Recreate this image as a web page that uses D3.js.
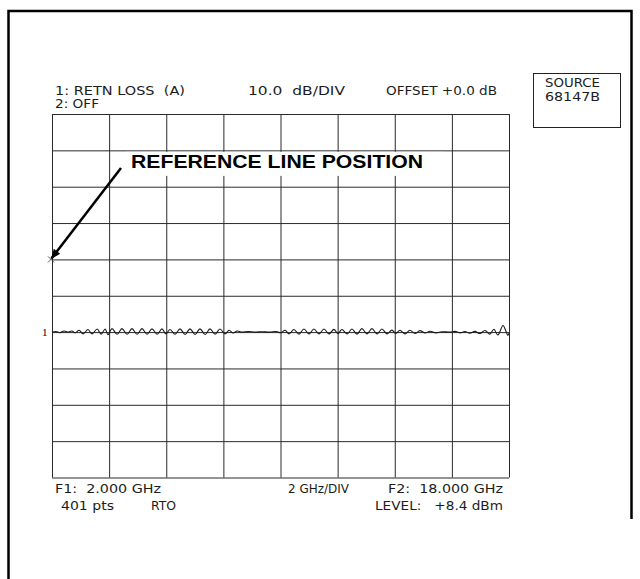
<!DOCTYPE html>
<html>
<head>
<meta charset="utf-8">
<script src="https://cdn.jsdelivr.net/npm/d3@7"></script>
<style>
  html, body { margin: 0; padding: 0; background: #fff; }
  svg text { white-space: pre; }
  .inst { font-family: "DejaVu Sans", "Liberation Sans", sans-serif; font-size: 11.5px; fill: #1c1c1c; }
</style>
</head>
<body>
<div id="chart"></div>
<script>
// sweep settings (GHz) and display scale (dB)
const freqStart = 2, freqStop = 18, freqStep = 2;
const dbTop = 40, dbBottom = -60, dbStep = 10;
const refLevel = 0;      // reference line position
const traceLevel = -20;  // where trace 1 sits

// trace 1 : return loss
const traceFreq = [2.00, 2.14, 2.28, 2.42, 2.56, 2.70, 2.81, 2.95, 3.09, 3.26, 3.40, 3.58, 3.72, 3.86, 3.96,
  4.10, 4.28, 4.45, 4.63, 4.80, 4.98, 5.15, 5.33, 5.50, 5.68, 5.85, 5.99,
  6.13, 6.31, 6.48, 6.66, 6.83, 7.01, 7.18, 7.36, 7.53, 7.71, 7.88, 8.06,
  8.20, 8.34, 8.48, 8.65, 8.86, 9.11, 9.35, 9.63, 9.84, 10.02,
  10.16, 10.30, 10.47, 10.65, 10.82, 11.00, 11.17, 11.35, 11.52, 11.70, 11.87, 12.01,
  12.15, 12.33, 12.50, 12.68, 12.85, 13.03, 13.20, 13.38, 13.55, 13.73, 13.90, 14.04,
  14.18, 14.36, 14.53, 14.71, 14.88, 15.06, 15.23, 15.44, 15.65, 15.93,
  16.11, 16.28, 16.46, 16.63, 16.81, 16.98, 17.16, 17.33, 17.47, 17.61, 17.79, 17.89, 17.96, 18.00];
const traceDb = [-20.0, -19.85, -20.15, -19.7, -20.0, -19.7, -20.2, -19.5, -20.5, -19.3, -20.5, -19.15, -20.55, -19.15, -20.7,
  -19.05, -20.6, -19.05, -20.6, -19.05, -20.6, -19.05, -20.6, -19.1, -20.6, -19.1, -20.5,
  -19.3, -20.6, -19.1, -20.65, -19.1, -20.65, -19.1, -20.65, -19.1, -20.6, -19.15, -20.5,
  -19.5, -20.25, -19.7, -20.0, -19.85, -20.0, -19.9, -20.0, -19.85, -20.15,
  -19.5, -20.5, -19.3, -20.55, -19.15, -20.5, -19.15, -20.5, -19.15, -20.5, -19.25, -20.4,
  -19.3, -20.5, -19.15, -20.55, -19.05, -20.5, -19.05, -20.5, -19.15, -20.5, -19.45, -20.4,
  -19.5, -20.5, -19.5, -20.4, -19.6, -20.25, -19.75, -20.2, -19.9, -20.0,
  -19.8, -20.2, -19.85, -20.3, -19.8, -20.4, -19.55, -20.55, -19.2, -20.8, -18.2, -19.7, -20.9, -20.3];

// annotation texts
const headerLeft = ["1: RETN LOSS  (A)", "2: OFF"];
const headerMid = "10.0  dB/DIV";
const headerRight = "OFFSET +0.0 dB";
const sourceLines = ["SOURCE", "68147B"];
const footerLeft = ["F1:  2.000 GHz", "401 pts"];
const footerMid = ["2 GHz/DIV", "RTO"];
const footerRight = ["F2:  18.000 GHz", "LEVEL:   +8.4 dBm"];
const calloutText = "REFERENCE LINE POSITION";

const W = 640, H = 579;
const plot = {left: 52, right: 509, top: 114, bottom: 477.5};

const svg = d3.select("#chart").append("svg")
  .attr("width", W).attr("height", H);

svg.append("rect").attr("width", W).attr("height", H).attr("fill", "#fff");

// page frame
svg.append("path")
  .attr("d", "M8.5,579V11H631.5V519")
  .attr("fill", "none").attr("stroke", "#000").attr("stroke-width", 2.5);

const x = d3.scaleLinear().domain([freqStart, freqStop]).range([plot.left, plot.right]);
const y = d3.scaleLinear().domain([dbBottom, dbTop]).range([plot.bottom, plot.top]);

// graticule via axes
const gridX = d3.axisBottom(x)
  .tickValues(d3.range(freqStart, freqStop + 0.01, freqStep))
  .tickSize(-(plot.bottom - plot.top)).tickFormat("");
const gridY = d3.axisLeft(y)
  .tickValues(d3.range(dbBottom, dbTop + 0.01, dbStep))
  .tickSize(-(plot.right - plot.left)).tickFormat("");

svg.append("g").attr("transform", `translate(0,${plot.bottom})`).call(gridX)
  .call(g => g.select(".domain").remove());
svg.append("g").attr("transform", `translate(${plot.left},0)`).call(gridY)
  .call(g => g.select(".domain").remove());
svg.selectAll(".tick line").attr("stroke", "#2a2a2a").attr("stroke-width", 1);

// trace
const trace = traceFreq.map((f, i) => ({f: f, db: traceDb[i]}));
svg.append("path")
  .datum(trace)
  .attr("fill", "none")
  .attr("stroke", "#1a1a1a")
  .attr("stroke-width", 1.1)
  .attr("d", d3.line().x(d => x(d.f)).y(d => y(d.db)).curve(d3.curveCatmullRom));

// trace marker "1"
svg.append("text")
  .attr("x", plot.left - 10).attr("y", y(traceLevel) + 3.5)
  .attr("font-family", "Liberation Serif, serif").attr("font-size", 11)
  .text("1");

// callout box + text
svg.append("rect")
  .attr("x", 126).attr("y", y(refLevel + 30) + 1.5).attr("width", 318).attr("height", 24)
  .attr("fill", "#fff");
svg.append("text")
  .attr("x", 131).attr("y", 168)
  .attr("font-family", "Liberation Sans, Arial, sans-serif")
  .attr("font-weight", "bold").attr("font-size", 18.5)
  .attr("textLength", 292).attr("lengthAdjust", "spacingAndGlyphs")
  .text(calloutText);

// arrow to the reference line position
svg.append("defs").append("marker")
  .attr("id", "arrow").attr("viewBox", "0 0 10 10")
  .attr("refX", 9).attr("refY", 5)
  .attr("markerWidth", 4.5).attr("markerHeight", 4)
  .attr("orient", "auto")
  .append("path").attr("d", "M0,1L10,5L0,9Z").attr("fill", "#000");

svg.append("line")
  .attr("x1", 121).attr("y1", 168)
  .attr("x2", x(freqStart) - 0.5).attr("y2", y(refLevel) - 1)
  .attr("stroke", "#000").attr("stroke-width", 2.5)
  .attr("marker-end", "url(#arrow)");

// small cross at the reference position
const rx = x(freqStart) - 1, ry = y(refLevel);
svg.append("path")
  .attr("d", `M${rx - 3},${ry - 3}L${rx + 3},${ry + 3}M${rx - 3},${ry + 3}L${rx + 3},${ry - 3}`)
  .attr("stroke", "#333").attr("stroke-width", 0.8);

// instrument annotations
function label(txt, xx, yy, len) {
  svg.append("text").attr("class", "inst")
    .attr("x", xx).attr("y", yy)
    .attr("textLength", len).attr("lengthAdjust", "spacingAndGlyphs")
    .text(txt);
}
label(headerLeft[0], 55, 94.5, 130);
label(headerLeft[1], 55, 107.5, 44);
label(headerMid, 248, 94.5, 97);
label(headerRight, 386, 94.5, 111);

svg.append("rect")
  .attr("x", 533.5).attr("y", 73.5).attr("width", 87).attr("height", 54)
  .attr("fill", "none").attr("stroke", "#222").attr("stroke-width", 1);
label(sourceLines[0], 545, 87, 55);
label(sourceLines[1], 545, 101, 55);

label(footerLeft[0], 55, 493, 106);
label(footerLeft[1], 61, 510, 53);
label(footerMid[0], 288, 493, 61);
label(footerMid[1], 151, 510, 25);
label(footerRight[0], 388, 493, 115);
label(footerRight[1], 375, 510, 128);
</script>
</body>
</html>
